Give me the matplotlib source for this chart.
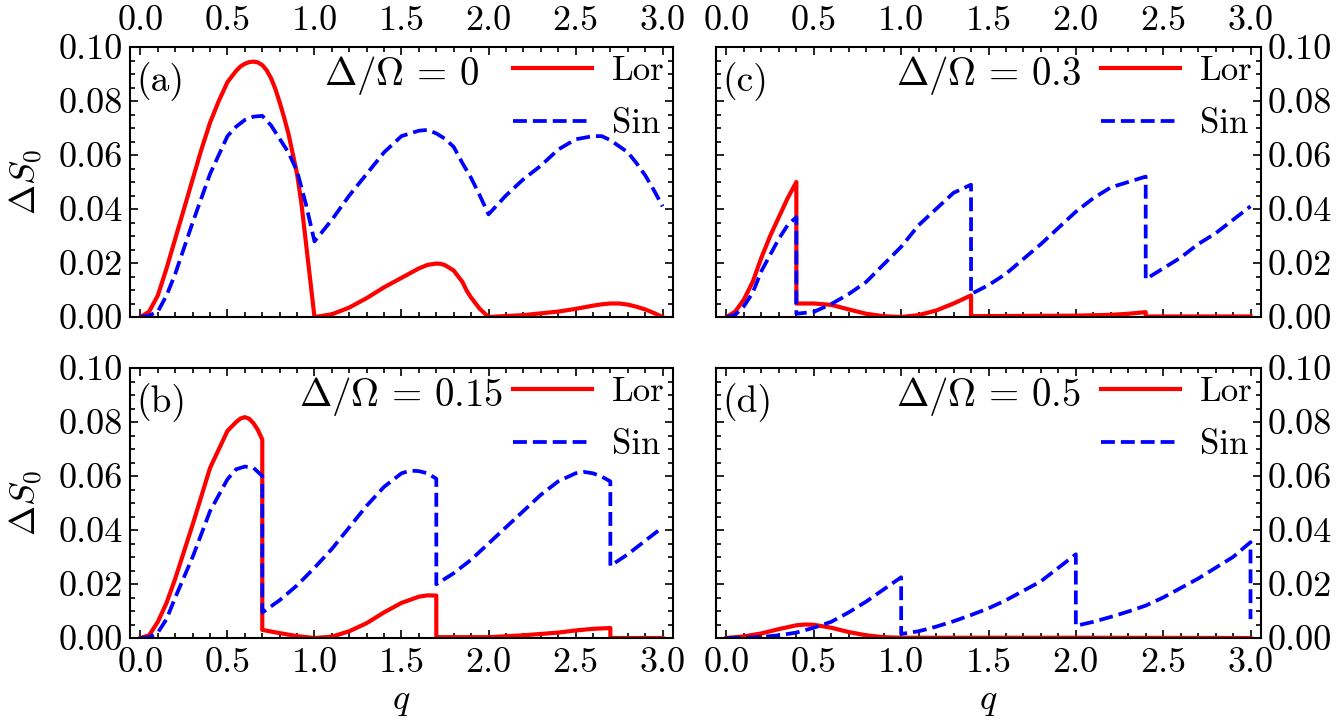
import matplotlib
matplotlib.use("Agg")
import matplotlib.pyplot as plt
from matplotlib.ticker import MultipleLocator, FormatStrFormatter

# ---- data ----
# (a) Delta/Omega = 0
q_a_lor = [0, 0.05, 0.1, 0.15, 0.2, 0.25, 0.3, 0.35, 0.4, 0.45, 0.5, 0.55, 0.575, 0.6,
           0.625, 0.65, 0.675, 0.7, 0.725, 0.75, 0.775, 0.8, 0.825, 0.85, 0.875, 0.9,
           0.925, 0.95, 0.975, 1.0, 1.1, 1.2, 1.3, 1.4, 1.5, 1.6, 1.65, 1.7, 1.725,
           1.75, 1.8, 1.85, 1.875, 1.9, 1.95, 2.0, 2.2, 2.4, 2.5, 2.6, 2.65, 2.7, 2.75,
           2.8, 2.85, 2.9, 2.95, 3.0]
s_a_lor = [0, 0.002, 0.008, 0.018, 0.029, 0.040, 0.051, 0.062, 0.072, 0.080, 0.087,
           0.0912, 0.0928, 0.0938, 0.0944, 0.0946, 0.0943, 0.0933, 0.0914, 0.0885,
           0.0845, 0.0795, 0.074, 0.068, 0.0605, 0.053, 0.042, 0.028, 0.014, 0.0,
           0.001, 0.0035, 0.007, 0.011, 0.0145, 0.018, 0.0193, 0.0198, 0.0197, 0.0192,
           0.0172, 0.013, 0.0097, 0.0072, 0.003, 0.0, 0.0007, 0.002, 0.003, 0.0042,
           0.0047, 0.005, 0.005, 0.0046, 0.0038, 0.0028, 0.0015, 0.0]
q_a_sin = [0, 0.05, 0.1, 0.15, 0.2, 0.3, 0.4, 0.5, 0.55, 0.6, 0.65, 0.7, 0.75, 0.8,
           0.85, 0.9, 0.95, 1.0, 1.1, 1.2, 1.3, 1.4, 1.5, 1.6, 1.65, 1.7, 1.75, 1.8,
           1.85, 1.9, 1.95, 2.0, 2.1, 2.2, 2.3, 2.4, 2.5, 2.6, 2.65, 2.7, 2.8, 2.85, 2.9,
           2.95, 3.0]
s_a_sin = [0, 0.0005, 0.002, 0.008, 0.016, 0.035, 0.053, 0.067, 0.0705, 0.073, 0.0742,
           0.0745, 0.071, 0.066, 0.061, 0.054, 0.042, 0.028, 0.036, 0.045, 0.053, 0.061,
           0.067, 0.069, 0.0693, 0.068, 0.066, 0.063, 0.057, 0.0515, 0.045, 0.038, 0.045,
           0.051, 0.056, 0.062, 0.0658, 0.067, 0.067, 0.0655, 0.061, 0.057, 0.0525,
           0.047, 0.041]

# (b) Delta/Omega = 0.15
q_b_lor = [0, 0.05, 0.1, 0.15, 0.2, 0.3, 0.4, 0.5, 0.55, 0.575, 0.6, 0.625, 0.65,
           0.675, 0.7, 0.7, 0.8, 0.9, 1.0, 1.1, 1.2, 1.3, 1.4, 1.5, 1.6, 1.65, 1.7, 1.7,
           2.0, 2.2, 2.4, 2.5, 2.6, 2.7, 2.7, 3.0]
s_b_lor = [0, 0.001, 0.006, 0.013, 0.022, 0.042, 0.063, 0.0767, 0.080, 0.0813, 0.0818,
           0.0812, 0.0795, 0.077, 0.0735, 0.003, 0.0018, 0.0007, 0.0, 0.0005, 0.0025,
           0.0055, 0.0095, 0.013, 0.0153, 0.0158, 0.0157, 0.0003, 0.0003, 0.001, 0.002,
           0.0028, 0.0034, 0.0037, 0.0, 0.0]
q_b_sin = [0, 0.05, 0.1, 0.15, 0.2, 0.3, 0.4, 0.5, 0.55, 0.6, 0.65, 0.7, 0.7, 0.8, 0.9,
           1.0, 1.1, 1.2, 1.3, 1.4, 1.5, 1.55, 1.6, 1.65, 1.7, 1.7, 1.8, 1.9, 2.0, 2.1,
           2.2, 2.3, 2.4, 2.5, 2.55, 2.6, 2.65, 2.7, 2.7, 2.8, 2.9, 3.0]
s_b_sin = [0, 0.0003, 0.002, 0.007, 0.015, 0.030, 0.047, 0.0588, 0.0625, 0.0635, 0.063,
           0.060, 0.0094, 0.014, 0.0195, 0.026, 0.033, 0.041, 0.049, 0.056, 0.061, 0.062,
           0.0618, 0.061, 0.059, 0.0199, 0.024, 0.029, 0.035, 0.041, 0.047, 0.053, 0.058,
           0.061, 0.0615, 0.061, 0.0598, 0.058, 0.0267, 0.031, 0.036, 0.041]

# (c) Delta/Omega = 0.3
q_c_lor = [0, 0.05, 0.1, 0.15, 0.2, 0.25, 0.3, 0.35, 0.4, 0.4, 0.5, 0.6, 0.7, 0.8, 0.9,
           1.0, 1.1, 1.2, 1.3, 1.4, 1.4, 2.0, 2.2, 2.3, 2.4, 2.4, 3.0]
s_c_lor = [0, 0.002, 0.0065, 0.013, 0.022, 0.030, 0.037, 0.044, 0.050, 0.005, 0.005,
           0.0045, 0.0028, 0.0012, 0.0003, 0.0, 0.0007, 0.0024, 0.005, 0.008, 0.0003,
           0.0005, 0.0008, 0.0012, 0.0018, 0.0002, 0.0002]
q_c_sin = [0, 0.05, 0.1, 0.15, 0.2, 0.25, 0.3, 0.35, 0.4, 0.4, 0.5, 0.6, 0.7, 0.8, 0.9,
           1.0, 1.1, 1.2, 1.3, 1.4, 1.4, 1.5, 1.6, 1.7, 1.8, 1.9, 2.0, 2.1, 2.2, 2.3, 2.4,
           2.4, 2.5, 2.6, 2.7, 2.8, 2.9, 3.0]
s_c_sin = [0, 0.0008, 0.004, 0.009, 0.017, 0.023, 0.029, 0.034, 0.037, 0.0012, 0.0019,
           0.0048, 0.0085, 0.013, 0.0195, 0.026, 0.034, 0.040, 0.046, 0.049, 0.0085,
           0.0118, 0.016, 0.0215, 0.027, 0.033, 0.039, 0.044, 0.048, 0.050, 0.052, 0.014,
           0.018, 0.022, 0.027, 0.031, 0.036, 0.041]

# (d) Delta/Omega = 0.5
q_d_lor = [0, 0.1, 0.2, 0.3, 0.4, 0.45, 0.5, 0.6, 0.7, 0.8, 0.9, 1.0, 2.0, 3.0]
s_d_lor = [0, 0.0006, 0.0017, 0.0033, 0.0047, 0.005, 0.0049, 0.0038, 0.0022, 0.001,
           0.0003, 0.0001, 0.0001, 0.0]
q_d_sin = [0, 0.1, 0.2, 0.3, 0.4, 0.5, 0.6, 0.7, 0.8, 0.9, 1.0, 1.0, 1.1, 1.2, 1.3, 1.4,
           1.5, 1.6, 1.7, 1.8, 1.9, 2.0, 2.0, 2.1, 2.2, 2.3, 2.4, 2.5, 2.6, 2.7, 2.8, 2.9,
           3.0, 3.0]
s_d_sin = [0, 0.0001, 0.0004, 0.001, 0.002, 0.0038, 0.006, 0.0095, 0.0135, 0.018, 0.0225,
           0.0015, 0.0025, 0.0042, 0.0062, 0.0085, 0.011, 0.014, 0.0175, 0.021, 0.026,
           0.031, 0.0045, 0.006, 0.0078, 0.0098, 0.012, 0.015, 0.0185, 0.022, 0.026, 0.030,
           0.0355, 0.007]

tags = ["(a)", "(b)", "(c)", "(d)"]
ratios = ["0", "0.15", "0.3", "0.5"]

# ---- style ----
plt.rcParams.update({
    "font.family": "serif",
    "font.serif": ["cmr10"],
    "mathtext.fontset": "cm",
    "axes.formatter.use_mathtext": True,
    "axes.linewidth": 1.5,
    "font.size": 26,
})

fig = plt.figure(figsize=(13.41, 7.27), dpi=100)

W, H = 1341.0, 727.0
col_left = [130 / W, 716 / W]
col_width = [543 / W, 545 / W]
row_bottom = [1 - 317 / H, 1 - 638 / H]
row_height = 270 / H

panels = [
    (0, 0, q_a_lor, s_a_lor, q_a_sin, s_a_sin),
    (1, 0, q_b_lor, s_b_lor, q_b_sin, s_b_sin),
    (0, 1, q_c_lor, s_c_lor, q_c_sin, s_c_sin),
    (1, 1, q_d_lor, s_d_lor, q_d_sin, s_d_sin),
]

for i, (row, col, ql, sl, qs, ss) in enumerate(panels):
    ax = fig.add_axes([col_left[col], row_bottom[row], col_width[col], row_height])
    ax.plot(ql, sl, color="#ff0000", lw=3, label="Lor")
    ax.plot(qs, ss, color="#0000ff", lw=2.7, ls="--", label="Sin")

    ax.set_xlim(-0.06, 3.06)
    ax.set_ylim(0, 0.1)
    ax.xaxis.set_major_locator(MultipleLocator(0.5))
    ax.xaxis.set_minor_locator(MultipleLocator(0.1))
    ax.yaxis.set_major_locator(MultipleLocator(0.02))
    ax.yaxis.set_minor_locator(MultipleLocator(0.005))
    ax.xaxis.set_major_formatter(FormatStrFormatter("%.1f"))
    ax.yaxis.set_major_formatter(FormatStrFormatter("%.2f"))

    ax.tick_params(which="both", direction="in", top=True, bottom=True,
                   left=True, right=True, width=1.2)
    ax.tick_params(which="major", length=6, labelsize=26)
    ax.tick_params(which="minor", length=3.5)
    ax.tick_params(axis="x", which="major", pad=7)
    ax.tick_params(axis="y", which="major", pad=5)

    if row == 0:
        ax.tick_params(labeltop=True, labelbottom=False)
    else:
        ax.set_xlabel(r"$q$", fontsize=26, labelpad=5)
    if col == 1:
        ax.tick_params(labelright=True, labelleft=False)
    else:
        ax.set_ylabel(r"$\Delta S_0$", fontsize=26, labelpad=10)

    ax.text(0.011, 0.835, tags[i], transform=ax.transAxes, fontsize=27,
            ha="left", va="baseline")
    ax.text(0.5, 0.86, r"$\Delta/\Omega\,=\,%s$" % ratios[i], transform=ax.transAxes,
            fontsize=28, ha="center", va="baseline")

    ax.legend(loc="upper right", bbox_to_anchor=(1.0, 1.0), frameon=False,
              fontsize=25, handlelength=2.3, handletextpad=0.55,
              labelspacing=0.6, borderaxespad=0.0, borderpad=0.25)

fig.savefig("out.png", dpi=100)
